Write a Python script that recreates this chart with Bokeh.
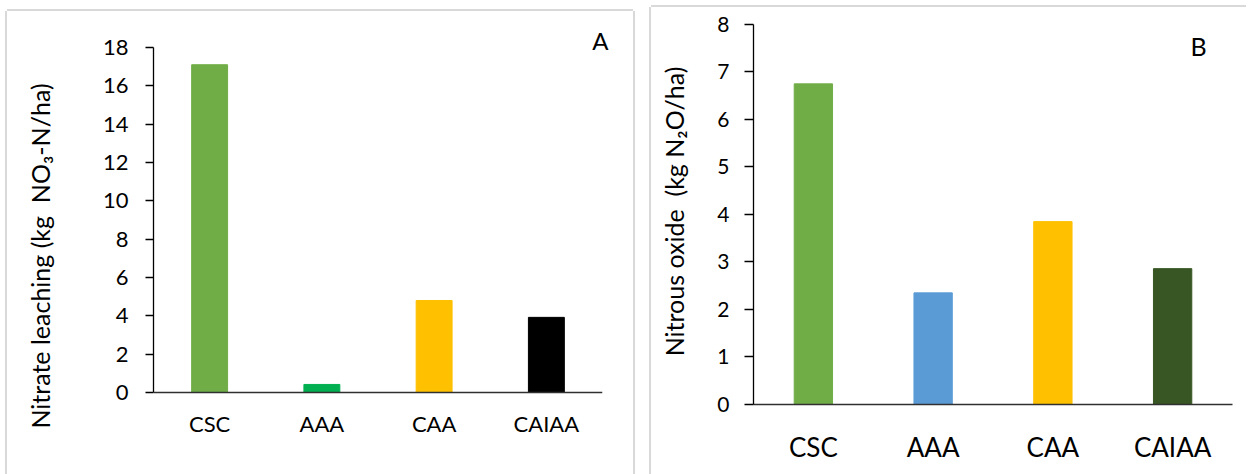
from bokeh.plotting import figure
from bokeh.layouts import row
from bokeh.models import Range1d, FixedTicker, Label, ColumnDataSource
from bokeh.embed import file_html
from bokeh.resources import INLINE

# ---- data ----
categories = ["CSC", "AAA", "CAA", "CAIAA"]
nitrate_values = [17.1, 0.42, 4.8, 3.92]
nitrate_colors = ["#70AD47", "#00B050", "#FFC000", "#000000"]
n2o_values = [6.75, 2.35, 3.85, 2.86]
n2o_colors = ["#70AD47", "#5B9BD5", "#FFC000", "#375623"]
nitrate_ticks = [0, 2, 4, 6, 8, 10, 12, 14, 16, 18]
n2o_ticks = [0, 1, 2, 3, 4, 5, 6, 7, 8]
nitrate_title = "Nitrate leaching (kg\u00a0 NO₃-N/ha)"
n2o_title = "Nitrous oxide\u00a0 (kg N₂O/ha)"

FONT = "Lato"
BORDER = "#d9d9d9"


def style_axes(p, tick_size, x_size, x_standoff, y_standoff, tick_out, title_standoff):
    for ax in p.yaxis:
        ax.axis_line_color = "#000000"
        ax.axis_line_width = 1.3
        ax.major_tick_line_color = "#000000"
        ax.major_tick_line_width = 1.3
        ax.major_tick_out = tick_out
        ax.major_tick_in = 0
        ax.minor_tick_line_color = None
        ax.major_label_text_font = FONT
        ax.major_label_text_font_size = f"{tick_size}px"
        ax.major_label_text_color = "#000000"
        ax.major_label_standoff = y_standoff
        ax.axis_label_text_font = FONT
        ax.axis_label_text_font_size = "25px"
        ax.axis_label_text_font_style = "normal"
        ax.axis_label_text_color = "#000000"
        ax.axis_label_standoff = title_standoff
    for ax in p.xaxis:
        ax.axis_line_color = "#303030"
        ax.axis_line_width = 1.6
        ax.major_tick_line_color = None
        ax.major_tick_out = 0
        ax.major_tick_in = 0
        ax.minor_tick_line_color = None
        ax.major_label_text_font = FONT
        ax.major_label_text_font_size = f"{x_size}px"
        ax.major_label_text_color = "#000000"
        ax.major_label_standoff = x_standoff
    p.xgrid.grid_line_color = None
    p.ygrid.grid_line_color = None
    p.outline_line_color = None


# ---- panel A ----
src_a = ColumnDataSource(dict(cat=categories, val=nitrate_values, color=nitrate_colors))
p1 = figure(width=626, height=463, x_range=categories, y_range=Range1d(-3.757, 18),
            output_backend="svg", toolbar_location=None,
            min_border_left=146, min_border_right=31, min_border_top=36, min_border_bottom=10,
            margin=(11, 0, 0, 7),
            styles={"box-shadow": f"-2px 0 0 0 {BORDER}, 2px 0 0 0 {BORDER}, 0 -2px 0 0 {BORDER}"})
p1.frame_align = False
p1.vbar(x="cat", bottom=0, top="val", width=0.32, color="color", source=src_a)
p1.yaxis.ticker = FixedTicker(ticks=nitrate_ticks)
p1.yaxis.bounds = (0, 18)
p1.yaxis.axis_label = nitrate_title
p1.xaxis.fixed_location = 0
style_axes(p1, 22, 22, 18, 17, 8, 45)
p1.title.text = "A"
p1.title.align = "right"
p1.title.offset = -6
p1.title.standoff = -15
p1.title.text_font = FONT
p1.title.text_font_size = "24px"
p1.title.text_font_style = "normal"
p1.title.text_color = "#000000"

# ---- panel B ----
src_b = ColumnDataSource(dict(cat=categories, val=n2o_values, color=n2o_colors))
p2 = figure(width=595, height=467, x_range=categories, y_range=Range1d(0, 8.126),
            output_backend="svg", toolbar_location=None,
            min_border_left=102, min_border_right=14, min_border_top=11, min_border_bottom=70,
            margin=(7, 0, 0, 18),
            styles={"box-shadow": f"-2px 0 0 0 {BORDER}, 0 -2px 0 0 {BORDER}"})
p2.frame_align = False
p2.vbar(x="cat", bottom=0, top="val", width=0.32, color="color", source=src_b)
p2.yaxis.ticker = FixedTicker(ticks=n2o_ticks)
p2.yaxis.bounds = (0, 8)
p2.yaxis.axis_label = n2o_title
style_axes(p2, 21, 26, 26, 15, 9, 25)
p2.add_layout(Label(x=445, y=7.54, x_units="screen", y_units="data", text="B",
                    text_align="center", text_baseline="alphabetic",
                    text_font=FONT, text_font_size="25px", text_color="#000000"))

layout = row(p1, p2)
open("out.html", "w").write(file_html(layout, INLINE))
